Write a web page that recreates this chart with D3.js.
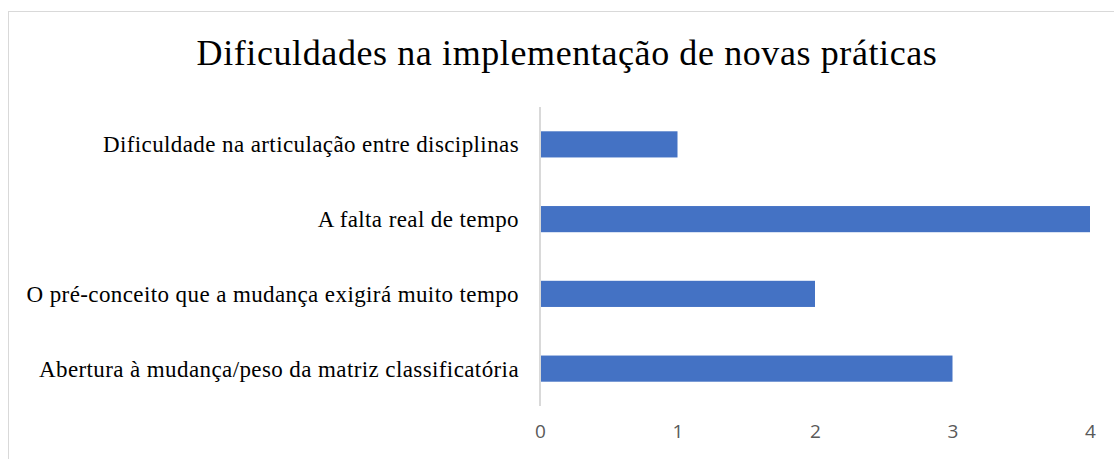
<!DOCTYPE html>
<html lang="pt">
  <head>
    <meta charset="utf-8">
    <title>Dificuldades</title>
    <script src="https://d3js.org/d3.v7.min.js"></script>
    <style>
      body { margin: 0; background: #fff; }
      svg { display: block; }
    </style>
  </head>
  <body>
    <div class="chart"></div>
    <script>
      // values
      const categories = [
        "Dificuldade na articulação entre disciplinas",
        "A falta real de tempo",
        "O pré-conceito que a mudança exigirá muito tempo",
        "Abertura à mudança/peso da matriz classificatória"
      ];
      const values = [1, 4, 2, 3];
      const tickValues = [0, 1, 2, 3, 4];
      const title = "Dificuldades na implementação de novas práticas";

      const width = 1114, height = 459;
      const svg = d3.select('.chart').append('svg')
          .attr('width', width)
          .attr('height', height);

      // chart border (cut off on the right and bottom)
      svg.append('rect')
          .attr('x', 8.5).attr('y', 11.5)
          .attr('width', 1200).attr('height', 600)
          .attr('fill', 'none')
          .attr('stroke', '#d9d9d9')
          .attr('stroke-width', 1);

      svg.append('text')
          .attr('x', 567)
          .attr('y', 65)
          .attr('text-anchor', 'middle')
          .attr('font-family', '"Liberation Serif", "Times New Roman", serif')
          .attr('font-size', 36)
          .attr('letter-spacing', 0.6)
          .attr('fill', '#000')
          .text(title);

      const x = d3.scaleLinear().domain([0, 4]).range([540, 1090]);
      const y = d3.scaleBand()
          .domain(categories)
          .range([107, 406])
          .paddingInner(0.65)
          .paddingOuter(0.325);

      svg.selectAll('.bar')
          .data(categories)
          .join('rect')
          .attr('class', 'bar')
          .attr('x', x(0))
          .attr('y', d => y(d))
          .attr('width', (d, i) => x(values[i]) - x(0))
          .attr('height', y.bandwidth())
          .attr('fill', '#4472c4');

      // vertical category axis line
      svg.append('line')
          .attr('x1', x(0)).attr('x2', x(0))
          .attr('y1', 107).attr('y2', 406)
          .attr('stroke', '#d9d9d9')
          .attr('stroke-width', 2);

      svg.selectAll('.cat')
          .data(categories)
          .join('text')
          .attr('class', 'cat')
          .attr('x', 519)
          .attr('y', d => y(d) + y.bandwidth() / 2 + 8)
          .attr('text-anchor', 'end')
          .attr('font-family', '"Liberation Serif", "Times New Roman", serif')
          .attr('font-size', 23)
          .attr('letter-spacing', 0.4)
          .attr('fill', '#000')
          .text(d => d);

      const xAxis = d3.axisBottom(x)
          .tickValues(tickValues)
          .tickSize(0)
          .tickPadding(0)
          .tickFormat(d3.format('d'));

      const gx = svg.append('g')
          .attr('transform', 'translate(0, 424)')
          .call(xAxis);
      gx.select('.domain').remove();
      gx.selectAll('text')
          .attr('font-family', '"Open Sans", "Noto Sans", sans-serif')
          .attr('font-size', 19)
          .attr('fill', '#595959');
    </script>
  </body>
</html>
